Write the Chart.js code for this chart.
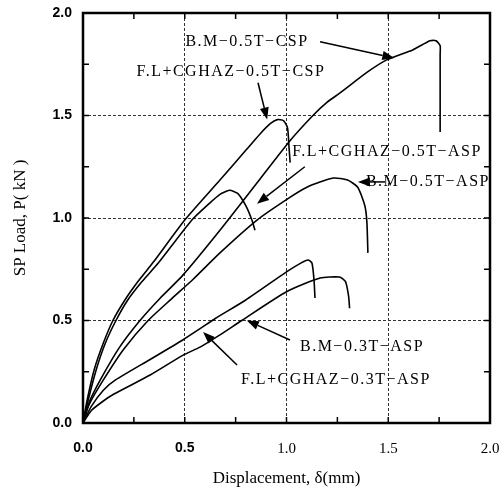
<!DOCTYPE html>
<html>
<head>
<meta charset="utf-8">
<script src="https://cdn.jsdelivr.net/npm/chart.js@4.4.0/dist/chart.umd.min.js"></script>
<style>
  html, body { margin: 0; padding: 0; background: #fff; }
  #wrap { width: 503px; height: 490px; }
</style>
</head>
<body>
<div id="wrap"><canvas id="wykres" width="503" height="490"></canvas></div>
<script>
// przemieszczenie (mm) i obciazenie (kN)
const bmCsp5X = [0, 0.03, 0.085, 0.18, 0.28, 0.38, 0.49, 0.673, 0.87, 1.02, 1.13, 1.20, 1.263, 1.395, 1.49, 1.62, 1.705, 1.735, 1.755, 1.755, 1.755];
const bmCsp5Y = [0, 0.10, 0.21, 0.37, 0.50, 0.61, 0.72, 0.94, 1.19, 1.38, 1.50, 1.565, 1.61, 1.71, 1.77, 1.82, 1.865, 1.865, 1.84, 1.80, 1.42];

const flCsp5X = [0, 0.02, 0.055, 0.10, 0.147, 0.206, 0.27, 0.35, 0.50, 0.673, 0.80, 0.87, 0.92, 0.955, 0.985, 1.005, 1.012, 1.018];
const flCsp5Y = [0, 0.11, 0.26, 0.39, 0.50, 0.60, 0.69, 0.79, 0.99, 1.185, 1.33, 1.41, 1.46, 1.48, 1.475, 1.44, 1.35, 1.27];

const flAsp5X = [0, 0.025, 0.065, 0.11, 0.162, 0.22, 0.29, 0.37, 0.535, 0.62, 0.673, 0.72, 0.76, 0.80, 0.83, 0.845];
const flAsp5Y = [0, 0.11, 0.26, 0.39, 0.50, 0.60, 0.69, 0.78, 0.99, 1.07, 1.115, 1.135, 1.12, 1.06, 0.99, 0.94];

const bmAsp5X = [0, 0.03, 0.10, 0.20, 0.32, 0.44, 0.54, 0.673, 0.855, 1.0, 1.10, 1.23, 1.30, 1.35, 1.385, 1.395, 1.40];
const bmAsp5Y = [0, 0.09, 0.21, 0.36, 0.50, 0.61, 0.70, 0.83, 0.99, 1.09, 1.15, 1.195, 1.185, 1.15, 1.06, 0.98, 0.83];

const flAsp3X = [0, 0.04, 0.10, 0.16, 0.33, 0.49, 0.575, 0.65, 0.80, 1.0, 1.07, 1.106, 1.125, 1.135, 1.14];
const flAsp3Y = [0, 0.08, 0.16, 0.21, 0.31, 0.405, 0.46, 0.51, 0.60, 0.737, 0.78, 0.795, 0.78, 0.70, 0.61];

const bmAsp3X = [0, 0.04, 0.09, 0.15, 0.33, 0.49, 0.575, 0.673, 0.78, 1.0, 1.165, 1.26, 1.29, 1.305, 1.31];
const bmAsp3Y = [0, 0.06, 0.10, 0.14, 0.234, 0.33, 0.37, 0.43, 0.50, 0.64, 0.707, 0.712, 0.69, 0.62, 0.56];

// opisy krzywych i strzalki (wspolrzedne w jednostkach danych)
const opisy = [
  { text: 'B.M\u22120.5T\u2212CSP', x: 0.806, y: 1.859 },
  { text: 'F.L+CGHAZ\u22120.5T\u2212CSP', x: 0.727, y: 1.712 },
  { text: 'F.L+CGHAZ\u22120.5T\u2212ASP', x: 1.494, y: 1.322 },
  { text: 'B.M\u22120.5T\u2212ASP', x: 1.695, y: 1.176 },
  { text: 'B.M\u22120.3T\u2212ASP', x: 1.371, y: 0.371 },
  { text: 'F.L+CGHAZ\u22120.3T\u2212ASP', x: 1.243, y: 0.21 }
];
const strzalki = [
  { x0: 1.165, y0: 1.86, x1: 1.53, y1: 1.78 },
  { x0: 0.86, y0: 1.66, x1: 0.905, y1: 1.48 },
  { x0: 1.09, y0: 1.25, x1: 0.855, y1: 1.07 },
  { x0: 1.484, y0: 1.176, x1: 1.351, y1: 1.176 },
  { x0: 1.017, y0: 0.405, x1: 0.805, y1: 0.50 },
  { x0: 0.757, y0: 0.283, x1: 0.59, y1: 0.444 }
];

const krzywe = [
  [bmCsp5X, bmCsp5Y], [flCsp5X, flCsp5Y], [flAsp5X, flAsp5Y],
  [bmAsp5X, bmAsp5Y], [flAsp3X, flAsp3Y], [bmAsp3X, bmAsp3Y]
];

function punkty(xs, ys) {
  return xs.map((v, i) => ({ x: v, y: ys[i] }));
}

function czyGlowny(v) {
  return Math.abs(v * 2 - Math.round(v * 2)) < 1e-6;
}

const ramkaPlugin = {
  id: 'ramka',
  afterDraw(chart) {
    const { ctx, chartArea: a, scales: { x, y } } = chart;
    ctx.save();
    ctx.strokeStyle = '#000';
    ctx.lineWidth = 1.5;
    // krotkie kreski skierowane do srodka na wszystkich bokach
    x.ticks.forEach(t => {
      const px = x.getPixelForValue(t.value);
      ctx.beginPath();
      ctx.moveTo(px, a.bottom); ctx.lineTo(px, a.bottom - 6);
      ctx.moveTo(px, a.top); ctx.lineTo(px, a.top + 6);
      ctx.stroke();
    });
    y.ticks.forEach(t => {
      const py = y.getPixelForValue(t.value);
      ctx.beginPath();
      ctx.moveTo(a.left, py); ctx.lineTo(a.left + 6, py);
      ctx.moveTo(a.right, py); ctx.lineTo(a.right - 6, py);
      ctx.stroke();
    });
    ctx.lineWidth = 2.5;
    ctx.strokeRect(a.left, a.top, a.width, a.height);

    // strzalki
    ctx.lineWidth = 1.5;
    ctx.fillStyle = '#000';
    strzalki.forEach(s => {
      const sx = x.getPixelForValue(s.x0), sy = y.getPixelForValue(s.y0);
      const ex = x.getPixelForValue(s.x1), ey = y.getPixelForValue(s.y1);
      const kat = Math.atan2(ey - sy, ex - sx);
      const dl = 12, sz = 4.5;
      const bx = ex - dl * Math.cos(kat), by = ey - dl * Math.sin(kat);
      ctx.beginPath();
      ctx.moveTo(sx, sy); ctx.lineTo(bx, by);
      ctx.stroke();
      ctx.beginPath();
      ctx.moveTo(ex, ey);
      ctx.lineTo(bx + sz * Math.sin(kat), by - sz * Math.cos(kat));
      ctx.lineTo(bx - sz * Math.sin(kat), by + sz * Math.cos(kat));
      ctx.closePath();
      ctx.fill();
    });

    // opisy
    ctx.font = '16px "Liberation Serif"';
    ctx.letterSpacing = '1.5px';
    ctx.textAlign = 'center';
    ctx.textBaseline = 'middle';
    opisy.forEach(o => {
      ctx.fillText(o.text, x.getPixelForValue(o.x), y.getPixelForValue(o.y));
    });
    ctx.restore();
  }
};

const siatka = {
  drawTicks: false,
  lineWidth: 1,
  color: c => (c.tick && czyGlowny(c.tick.value) && c.tick.value > 0 && c.tick.value < 2) ? '#333' : 'rgba(0,0,0,0)'
};

new Chart(document.getElementById('wykres'), {
  type: 'line',
  data: {
    datasets: krzywe.map(k => ({
      data: punkty(k[0], k[1]),
      borderColor: '#000',
      borderWidth: 1.6,
      pointRadius: 0,
      tension: 0.2,
      fill: false
    }))
  },
  options: {
    responsive: false,
    animation: false,
    layout: { padding: { top: 13, right: 13, left: 0, bottom: 0 } },
    plugins: {
      legend: { display: false },
      tooltip: { enabled: false }
    },
    scales: {
      x: {
        type: 'linear',
        min: 0,
        max: 2,
        grid: siatka,
        border: { display: false, dash: [3, 2] },
        afterFit: s => { s.height = 67; s.paddingLeft = 0; s.paddingRight = 0; },
        ticks: {
          stepSize: 0.25,
          padding: 17,
          maxRotation: 0,
          autoSkip: false,
          color: '#000',
          font: c => (c.tick && c.tick.value < 0.75)
            ? { family: 'Liberation Sans', size: 14, weight: 'bold' }
            : { family: 'Liberation Serif', size: 15 },
          callback: v => czyGlowny(v) ? v.toFixed(1) : ''
        },
        title: {
          display: true,
          text: 'Displacement, \u03b4(mm)',
          color: '#000',
          font: { family: 'Liberation Serif', size: 17 },
          padding: { top: 0, bottom: 1 }
        }
      },
      y: {
        min: 0,
        max: 2,
        grid: siatka,
        border: { display: false, dash: [3, 2] },
        afterFit: s => { s.width = 83; s.paddingTop = 0; s.paddingBottom = 0; },
        ticks: {
          stepSize: 0.25,
          padding: 11,
          autoSkip: false,
          color: '#000',
          font: { family: 'Liberation Sans', size: 14, weight: 'bold' },
          callback: v => czyGlowny(v) ? v.toFixed(1) : ''
        },
        title: {
          display: true,
          text: 'SP Load, P( kN )',
          color: '#000',
          font: { family: 'Liberation Serif', size: 17 },
          padding: { top: 10, bottom: 0 }
        }
      }
    }
  },
  plugins: [ramkaPlugin]
});
</script>
</body>
</html>
